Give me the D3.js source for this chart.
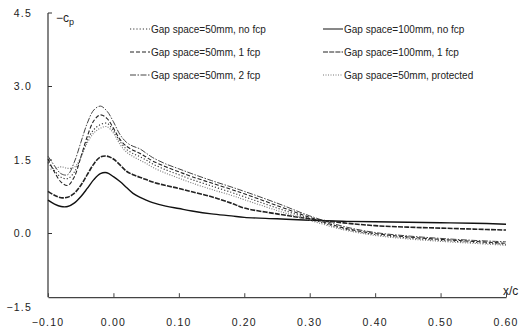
<!DOCTYPE html>
<html>
<head>
<meta charset="utf-8">
<script src="https://cdn.jsdelivr.net/npm/d3@7"></script>
<style>
  html, body { margin: 0; padding: 0; background: #fff; }
  svg text { font-family: "Liberation Sans", Arial, sans-serif; fill: #222; }
</style>
</head>
<body>
<div id="chart"></div>
<script>
// x/c stations
const xPos = [-0.10, -0.09, -0.08, -0.07, -0.06, -0.05, -0.04, -0.03, -0.02, -0.01, 0.00, 0.01, 0.02, 0.03, 0.04, 0.05, 0.06, 0.08, 0.10, 0.12, 0.15, 0.18, 0.20, 0.25, 0.30, 0.35, 0.40, 0.45, 0.50, 0.55, 0.60];

// -Cp values
const gap50NoFcp   = [1.45, 1.28, 1.15, 1.12, 1.25, 1.55, 1.90, 2.12, 2.22, 2.25, 2.10, 1.88, 1.72, 1.63, 1.57, 1.50, 1.42, 1.30, 1.20, 1.10, 0.97, 0.84, 0.75, 0.52, 0.30, 0.10, -0.02, -0.09, -0.14, -0.18, -0.22];
const gap50Fcp1    = [1.52, 1.25, 1.05, 0.98, 1.15, 1.55, 1.98, 2.30, 2.42, 2.35, 2.15, 1.92, 1.78, 1.70, 1.64, 1.56, 1.48, 1.36, 1.26, 1.16, 1.03, 0.90, 0.81, 0.57, 0.33, 0.12, 0.00, -0.07, -0.12, -0.16, -0.20];
const gap50Fcp2    = [1.58, 1.38, 1.22, 1.20, 1.45, 1.85, 2.25, 2.52, 2.60, 2.50, 2.28, 2.02, 1.86, 1.78, 1.73, 1.64, 1.55, 1.42, 1.32, 1.22, 1.08, 0.95, 0.86, 0.62, 0.36, 0.15, 0.02, -0.05, -0.10, -0.14, -0.17];
const gap100NoFcp  = [0.68, 0.60, 0.55, 0.55, 0.62, 0.75, 0.92, 1.10, 1.22, 1.24, 1.16, 1.06, 0.94, 0.82, 0.74, 0.68, 0.63, 0.56, 0.51, 0.46, 0.40, 0.36, 0.33, 0.30, 0.27, 0.25, 0.24, 0.23, 0.22, 0.21, 0.19];
const gap100Fcp1   = [0.86, 0.78, 0.73, 0.74, 0.82, 0.98, 1.20, 1.42, 1.56, 1.58, 1.52, 1.40, 1.27, 1.20, 1.15, 1.10, 1.05, 0.98, 0.92, 0.85, 0.75, 0.62, 0.52, 0.40, 0.30, 0.22, 0.16, 0.13, 0.11, 0.09, 0.07];
const gap50Protect = [1.30, 1.33, 1.36, 1.33, 1.35, 1.55, 1.85, 2.05, 2.15, 2.18, 2.05, 1.82, 1.66, 1.57, 1.50, 1.43, 1.35, 1.23, 1.13, 1.03, 0.90, 0.78, 0.69, 0.47, 0.27, 0.08, -0.04, -0.11, -0.16, -0.20, -0.24];

const seriesNames = ["Gap space=50mm, no fcp", "Gap space=50mm, 1 fcp", "Gap space=50mm, 2 fcp",
                     "Gap space=100mm, no fcp", "Gap space=100mm, 1 fcp", "Gap space=50mm, protected"];

const xTicks = [-0.10, 0.00, 0.10, 0.20, 0.30, 0.40, 0.50, 0.60];
const yTicks = [4.5, 3.0, 1.5, 0.0, -1.5];

const width = 523, height = 336;

const series = [
  { name: seriesNames[0], values: gap50NoFcp,   color: "#333", dash: "1.2,2",         w: 1.1 },
  { name: seriesNames[1], values: gap50Fcp1,    color: "#222", dash: "4,2",           w: 1.1 },
  { name: seriesNames[2], values: gap50Fcp2,    color: "#444", dash: "6,1.5,1.5,1.5", w: 1 },
  { name: seriesNames[3], values: gap100NoFcp,  color: "#111", dash: null,            w: 1.4 },
  { name: seriesNames[4], values: gap100Fcp1,   color: "#222", dash: "5,1.2",         w: 1.6 },
  { name: seriesNames[5], values: gap50Protect, color: "#777", dash: "1,1.5",         w: 1.1 }
];

const svg = d3.select("#chart")
  .append("svg")
    .attr("width", width)
    .attr("height", height)
    .attr("viewBox", [0, 0, width, height]);

const x = d3.scaleLinear().domain([-0.1, 0.6]).range([48, 506]);
const y = d3.scaleLinear().domain([-1.5, 4.5]).range([307, 13]);
const xAxisAt = -1.3; // the horizontal axis sits a bit above -1.5 in the original

// y axis
svg.append("line")
  .attr("x1", x(-0.1)).attr("x2", x(-0.1))
  .attr("y1", y(4.5)).attr("y2", y(xAxisAt))
  .attr("stroke", "#333").attr("stroke-width", 1.2);

svg.append("g")
    .attr("transform", `translate(${x(-0.1)},0)`)
    .call(d3.axisLeft(y).tickValues(yTicks).tickSize(0).tickPadding(16).tickFormat(d3.format(".1f")))
    .call(g => g.select(".domain").remove())
    .call(g => g.selectAll("text")
      .attr("font-size", 10.5).attr("letter-spacing", 1.2).attr("fill", "#444")
      .attr("font-family", "DejaVu Sans, sans-serif").text(d => d3.format(".1f")(d).replace("-", "- ")));

svg.append("g").selectAll("line")
  .data(yTicks.filter(d => d > xAxisAt))
  .join("line")
    .attr("x1", x(-0.1)).attr("x2", x(-0.1) + 4)
    .attr("y1", d => y(d)).attr("y2", d => y(d))
    .attr("stroke", "#333");

// x axis
svg.append("g")
    .attr("transform", `translate(0,${y(xAxisAt)})`)
    .call(d3.axisTop(x).tickValues(xTicks).tickSize(4).tickSizeOuter(0).tickFormat(""))
    .call(g => g.select(".domain").attr("stroke", "#444").attr("stroke-width", 1.2))
    .call(g => g.selectAll(".tick line").attr("stroke", "#444"));

svg.append("g").selectAll("text")
  .data(xTicks)
  .join("text")
    .attr("x", d => x(d))
    .attr("y", 326)
    .attr("text-anchor", "middle")
    .attr("font-size", 10.5)
    .attr("letter-spacing", 1.2)
    .attr("fill", "#444")
    .attr("font-family", "DejaVu Sans, sans-serif")
    .text(d => d3.format(".2f")(d).replace("-", "- "));

// axis titles
svg.append("text")
  .attr("x", 503).attr("y", 295)
  .attr("font-size", 12).attr("fill", "#333")
  .text("x/c");

const cp = svg.append("text")
  .attr("x", 56).attr("y", 22)
  .attr("font-size", 12).attr("fill", "#333");
cp.append("tspan").text("\u2212c");
cp.append("tspan").attr("font-size", 9).attr("dy", 3).text("p");

// curves
const line = d3.line()
  .x((d, i) => x(xPos[i]))
  .y(d => y(d))
  .curve(d3.curveCatmullRom.alpha(0.5));

svg.append("g")
  .attr("fill", "none")
  .selectAll("path")
  .data(series)
  .join("path")
    .attr("d", d => line(d.values))
    .attr("stroke", d => d.color)
    .attr("stroke-width", d => d.w)
    .attr("stroke-dasharray", d => d.dash);

// legend
const legendCols = [130, 323];
const legendRows = [29, 52, 75];
const legendOrder = [0, 3, 1, 4, 2, 5];

const legend = svg.append("g")
  .selectAll("g")
  .data(legendOrder.map(i => series[i]))
  .join("g")
    .attr("transform", (d, i) => `translate(${legendCols[i % 2]},${legendRows[Math.floor(i / 2)]})`);

legend.append("line")
  .attr("x1", 0).attr("x2", 20)
  .attr("stroke", d => d.color)
  .attr("stroke-width", 1)
  .attr("stroke-dasharray", d => d.dash);

legend.append("text")
  .attr("x", 21)
  .attr("dy", "0.35em")
  .attr("font-size", 10)
  .attr("fill", "#333")
  .text(d => d.name);
</script>
</body>
</html>
